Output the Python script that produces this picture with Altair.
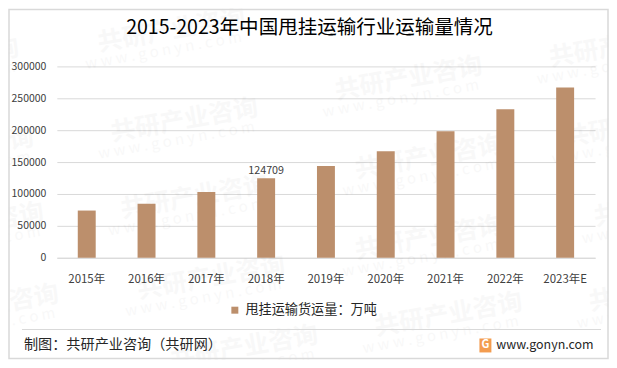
import altair as alt
import pandas as pd

years = ["2015年", "2016年", "2017年", "2018年", "2019年", "2020年", "2021年", "2022年", "2023年E"]
volume = [74000, 84500, 103000, 124709, 144000, 167000, 198500, 233000, 267000]
series_name = "甩挂运输货运量：万吨"
title_text = "2015-2023年中国甩挂运输行业运输量情况"
source_text = "制图：共研产业咨询（共研网）"
site_text = "www.gonyn.com"
wm_cn = "共研产业咨询"
wm_en = "w w w . g o n y n . c o m"
wm_x = [172, 185, 195, 410, 430, 430, 625, 640, 670, -40, -30, -55, 212, -15, 450, 245, 665]
wm_y = [30, 120, 197, 78, 157, 238, 45, 125, 205, 150, 225, 60, 278, 307, 315, 348, 290]

FONT = "Noto Sans CJK SC"
PL, PT, W, H = 57, 66, 540, 192   # plot area in page pixels


def px(v):
    return v - PL


def py(v):
    return v - PT


df = pd.DataFrame({"year": years, "volume": volume, "series": series_name})
one = pd.DataFrame({"a": [0]})
x_enc = alt.X("year:N", sort=years, title=None,
              scale=alt.Scale(paddingInner=0.7, paddingOuter=0.35),
              axis=alt.Axis(labelAngle=0, labelFont=FONT, labelFontSize=11.5, labelColor="#404040",
                            labelPadding=16, ticks=False, domainColor="#d9d9d9", grid=False))
y_enc = alt.Y("volume:Q", title=None,
              scale=alt.Scale(domain=[0, 300000]),
              axis=alt.Axis(values=[0, 50000, 100000, 150000, 200000, 250000, 300000], format="d",
                            labelFont=FONT, labelFontSize=10.5, labelColor="#404040", labelPadding=11,
                            labelOverlap=False, ticks=False, domain=False, gridColor="#d9d9d9", grid=True))


def text_at(s, x, y, size, color="#000000", align="left", font=FONT, **kw):
    return alt.Chart(one).mark_text(text=s, font=font, fontSize=size, color=color, align=align,
                                    baseline="middle", **kw).encode(x=alt.value(px(x)), y=alt.value(py(y)))


layers = []
for wx, wy in zip(wm_x, wm_y):
    layers.append(text_at(wm_cn, wx, wy, 25, color="#000000", align="center", angle=350,
                          fontWeight="bold", opacity=0.022))
    layers.append(text_at(wm_en, wx - 8, wy + 20, 15, color="#000000", align="center", angle=350,
                          opacity=0.025))

border = alt.Chart(one).mark_rect(fill=None, stroke="#d9d9d9", strokeWidth=1.5).encode(
    x=alt.value(px(9)), x2=alt.value(px(610)), y=alt.value(py(9)), y2=alt.value(py(359)))
footer_line = alt.Chart(one).mark_rule(color="#d9d9d9", strokeWidth=1).encode(
    x=alt.value(px(22)), x2=alt.value(px(603)), y=alt.value(py(330)))

bars = alt.Chart(df).mark_bar(size=18).encode(
    x=x_enc, y=y_enc,
    color=alt.Color("series:N", scale=alt.Scale(range=["#bc8f6c"]),
                    legend=alt.Legend(title=None, orient="none", legendX=px(229), legendY=py(304),
                                      symbolType="square", symbolSize=49, labelFont=FONT, labelFontSize=13.2,
                                      labelColor="#262626", symbolStrokeWidth=0)))
label = alt.Chart(df[df.volume == 124709]).mark_text(font=FONT, fontSize=10.8, color="#404040", dy=-7).encode(
    x=x_enc, y=y_enc, text=alt.Text("volume:Q", format="d"))

logo = alt.Chart(one).mark_rect(fill="#f39c4f").encode(
    x=alt.value(px(481)), x2=alt.value(px(493)), y=alt.value(py(339)), y2=alt.value(py(353)))

chart = alt.layer(
    *layers, border, footer_line, bars, label,
    text_at(title_text, 310.5, 28, 19.6, align="center"),
    text_at(source_text, 24, 346, 14.2, color="#262626"),
    logo,
    text_at("G", 487, 346, 11, color="#ffffff", align="center", fontWeight="bold"),
    text_at(site_text, 498, 346, 12.5, color="#262626"),
).properties(
    width=W, height=H, autosize=alt.AutoSizeParams(type="none"),
    padding={"left": PL - 8, "top": PT - 8, "right": 14, "bottom": 102},
    background="#ffffff",
).configure_view(stroke=None)

chart.save("out.html", embed_options={"renderer": "svg", "actions": False})
